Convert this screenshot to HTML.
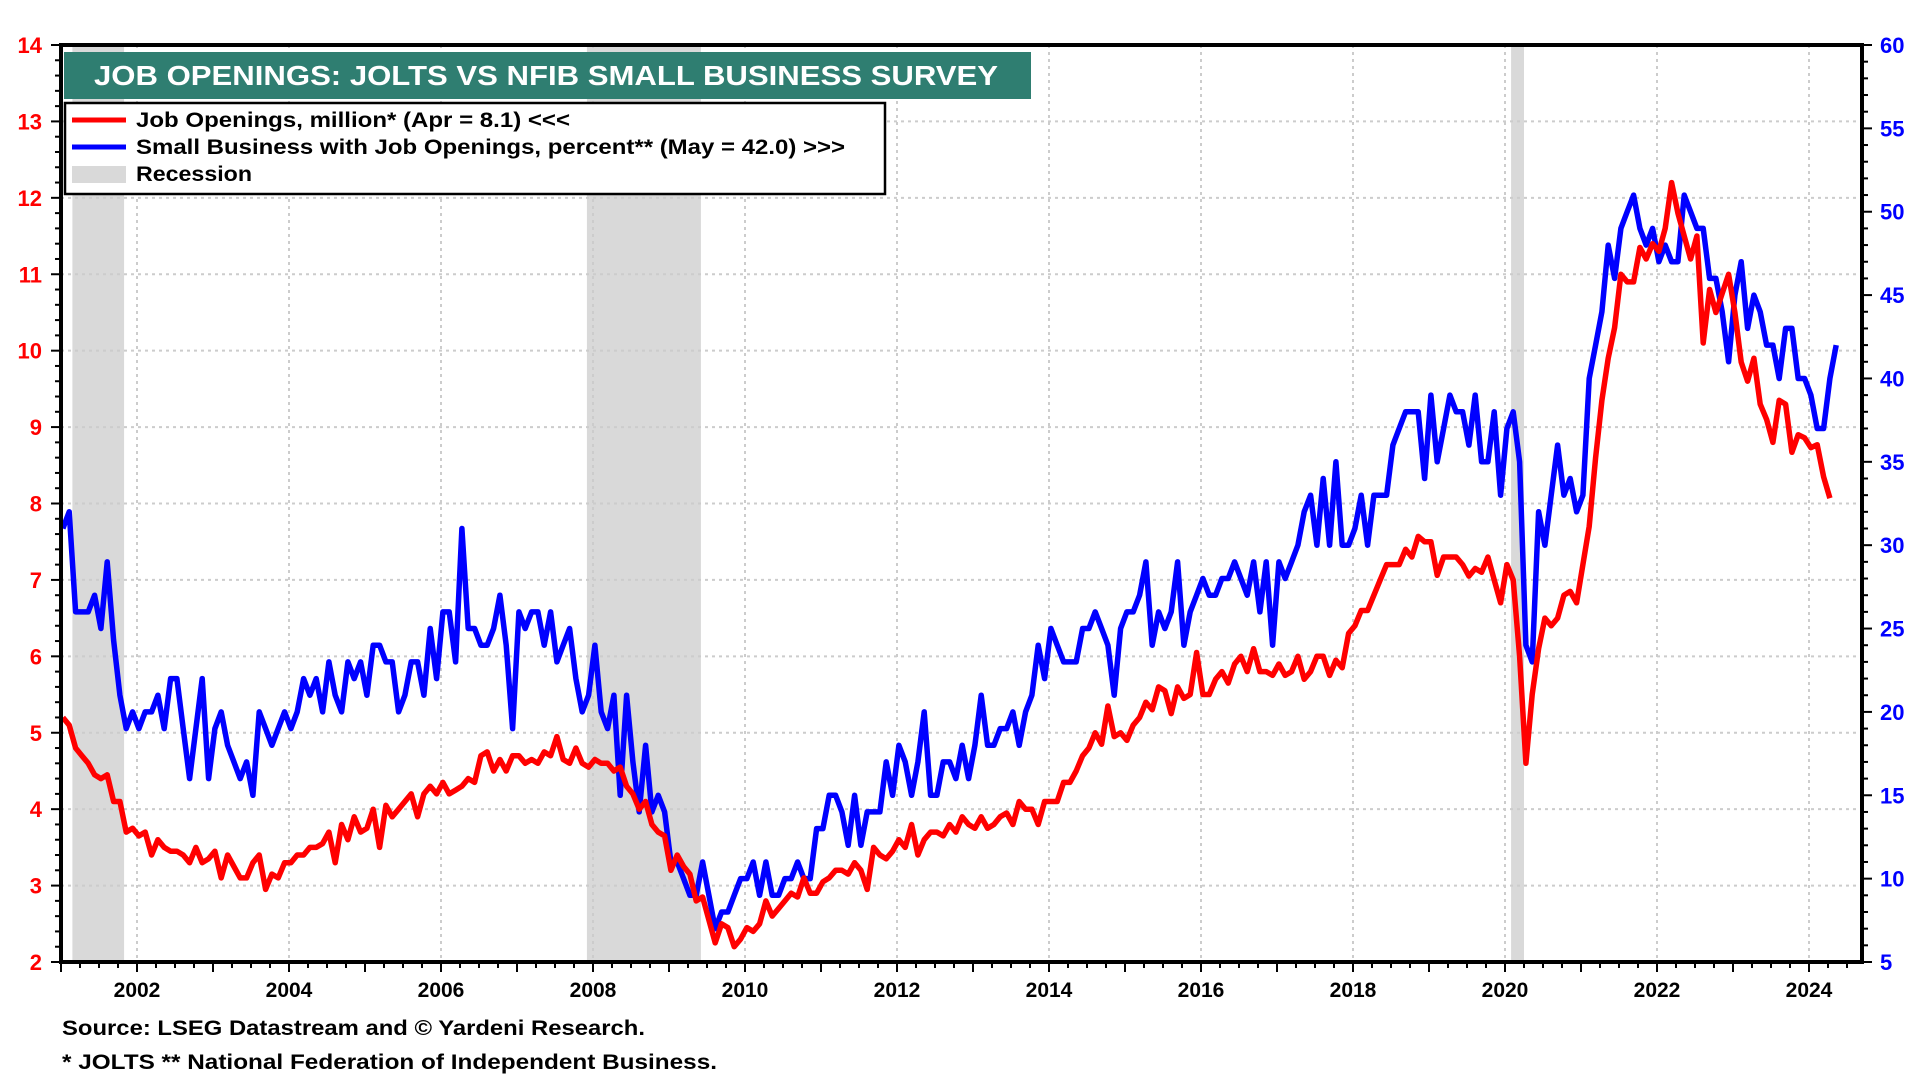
<!DOCTYPE html>
<html><head><meta charset="utf-8"><title>Job Openings: JOLTS vs NFIB</title>
<style>
html,body{margin:0;padding:0;background:#fff;}
svg{display:block;font-family:"Liberation Sans",Arial,sans-serif;font-weight:bold;}
</style></head>
<body>
<svg id="chart" width="1920" height="1080" viewBox="0 0 1920 1080" xmlns="http://www.w3.org/2000/svg">
  <g id="shade"></g>
  <g id="grid"></g>
  <g id="series"></g>
  <g id="axes"></g>
  <g>
    <rect x="64" y="52" width="967" height="47" fill="#2f7e71"/>
    <text x="94" y="85" font-size="28" fill="#fff" textLength="904" lengthAdjust="spacingAndGlyphs">JOB OPENINGS: JOLTS VS NFIB SMALL BUSINESS SURVEY</text>
  </g>
  <g>
    <rect x="65" y="103" width="820" height="91" fill="#fff" stroke="#000" stroke-width="2.5"/>
    <line x1="72" y1="120" x2="126" y2="120" stroke="#ff0000" stroke-width="5"/>
    <text x="136" y="127" font-size="21" fill="#000" textLength="434" lengthAdjust="spacingAndGlyphs">Job Openings, million* (Apr = 8.1) &lt;&lt;&lt;</text>
    <line x1="72" y1="147" x2="126" y2="147" stroke="#0000ff" stroke-width="5"/>
    <text x="136" y="154" font-size="21" fill="#000" textLength="709" lengthAdjust="spacingAndGlyphs">Small Business with Job Openings, percent** (May = 42.0) &gt;&gt;&gt;</text>
    <rect x="72" y="166" width="54" height="17" fill="#d9d9d9"/>
    <text x="136" y="181" font-size="21" fill="#000" textLength="116" lengthAdjust="spacingAndGlyphs">Recession</text>
  </g>
  <text x="62" y="1035" font-size="21" fill="#000" textLength="583" lengthAdjust="spacingAndGlyphs">Source: LSEG Datastream and © Yardeni Research.</text>
  <text x="62" y="1069" font-size="21" fill="#000" textLength="655" lengthAdjust="spacingAndGlyphs">* JOLTS  ** National Federation of Independent Business.</text>
</svg>
<script>
const startYear = 2001;
const joltsValues = [
5.2,5.1,4.8,4.7,4.6,4.45,4.4,4.45,4.1,4.1,3.7,3.75,
3.65,3.7,3.4,3.6,3.5,3.45,3.45,3.4,3.3,3.5,3.3,3.35,
3.45,3.1,3.4,3.25,3.1,3.1,3.3,3.4,2.95,3.15,3.1,3.3,
3.3,3.4,3.4,3.5,3.5,3.55,3.7,3.3,3.8,3.6,3.9,3.7,
3.75,4.0,3.5,4.05,3.9,4.0,4.1,4.2,3.9,4.2,4.3,4.2,
4.35,4.2,4.25,4.3,4.4,4.35,4.7,4.75,4.5,4.65,4.5,4.7,
4.7,4.6,4.65,4.6,4.75,4.7,4.95,4.65,4.6,4.8,4.6,4.55,
4.65,4.6,4.6,4.5,4.55,4.3,4.2,4.0,4.1,3.8,3.7,3.65,
3.2,3.4,3.25,3.15,2.8,2.85,2.55,2.25,2.5,2.45,2.2,2.3,
2.45,2.4,2.5,2.8,2.6,2.7,2.8,2.9,2.85,3.1,2.9,2.9,
3.05,3.1,3.2,3.2,3.15,3.3,3.2,2.95,3.5,3.4,3.35,3.45,
3.6,3.5,3.8,3.4,3.6,3.7,3.7,3.65,3.8,3.7,3.9,3.8,
3.75,3.9,3.75,3.8,3.9,3.95,3.8,4.1,4.0,4.0,3.8,4.1,
4.1,4.1,4.35,4.35,4.5,4.7,4.8,5.0,4.85,5.35,4.95,5.0,
4.9,5.1,5.2,5.4,5.3,5.6,5.55,5.25,5.6,5.45,5.5,6.05,
5.5,5.5,5.7,5.8,5.65,5.9,6.0,5.8,6.1,5.8,5.8,5.75,
5.9,5.75,5.8,6.0,5.7,5.8,6.0,6.0,5.75,5.95,5.85,6.3,
6.4,6.6,6.6,6.8,7.0,7.2,7.2,7.2,7.4,7.3,7.57,7.5,
7.5,7.06,7.3,7.3,7.3,7.2,7.05,7.15,7.1,7.3,7.0,6.7,
7.2,7.0,6.0,4.6,5.5,6.1,6.5,6.4,6.5,6.8,6.85,6.7,
7.2,7.7,8.6,9.35,9.9,10.3,11.0,10.9,10.9,11.35,11.2,11.4,
11.3,11.6,12.2,11.8,11.5,11.2,11.5,10.1,10.8,10.5,10.75,11.0,
10.5,9.85,9.6,9.9,9.3,9.1,8.8,9.35,9.3,8.67,8.9,8.86,
8.73,8.77,8.35,8.07];
const nfibValues = [
31,32,26,26,26,27,25,29,24.3,21,19,20,
19,20,20,21,19,22,22,19,16,19,22,16,
19,20,18,17,16,17,15,20,19,18,19,20,
19,20,22,21,22,20,23,21,20,23,22,23,
21,24,24,23,23,20,21,23,23,21,25,22,
26,26,23,31,25,25,24,24,25,27,24,19,
26,25,26,26,24,26,23,24,25,22,20,21,
24,20,19,21,15,21,17,14,18,14,15,14,
11,11,10,9,9,11,9,7,8,8,9,10,
10,11,9,11,9,9,10,10,11,10,10,13,
13,15,15,14,12,15,12,14,14,14,17,15,
18,17,15,17,20,15,15,17,17,16,18,16,
18,21,18,18,19,19,20,18,20,21,24,22,
25,24,23,23,23,25,25,26,25,24,21,25,
26,26,27,29,24,26,25,26,29,24,26,27,
28,27,27,28,28,29,28,27,29,26,29,24,
29,28,29,30,32,33,30,34,30,35,30,30,
31,33,30,33,33,33,36,37,38,38,38,34,
39,35,37,39,38,38,36,39,35,35,38,33,
37,38,35,24,23,32,30,33,36,33,34,32,
33,40,42,44,48,46,49,50,51,49,48,49,
47,48,47,47,51,50,49,49,46,46,44,41,
45,47,43,45,44,42,42,40,43,43,40,40,
39,37,37,40,42];
const recessionStarts = [2001.15, 2007.92, 2020.08];
const recessionEnds = [2001.83, 2009.42, 2020.25];
const leftTicks = [2,3,4,5,6,7,8,9,10,11,12,13,14];
const rightTicks = [5,10,15,20,25,30,35,40,45,50,55,60];
const yearLabels = [2002,2004,2006,2008,2010,2012,2014,2016,2018,2020,2022,2024];

const NS = "http://www.w3.org/2000/svg";
const X0 = 61, X1 = 1862, Y0 = 45, Y1 = 962, PX_YEAR = 76.0;
const xScale = t => X0 + (t - 2001) * PX_YEAR;
const yLeft = v => Y1 - (v - 2) * (Y1 - Y0) / 12;
const yRight = v => Y1 - (v - 5) * (Y1 - Y0) / 55;
function mk(tag, attrs, parent) {
  const el = document.createElementNS(NS, tag);
  for (const k in attrs) el.setAttribute(k, attrs[k]);
  parent.appendChild(el);
  return el;
}
const shade = document.getElementById('shade');
const grid = document.getElementById('grid');
const series = document.getElementById('series');
const axes = document.getElementById('axes');

recessionStarts.forEach((s, i) => {
  const r = mk('rect', {x: xScale(s), y: Y0, width: xScale(recessionEnds[i]) - xScale(s), height: Y1 - Y0, fill: '#d9d9d9'}, shade);
  
  
});

leftTicks.forEach(v => {
  if (v === 2 || v === 14) return;
  const l = mk('line', {x1: X0, x2: X1, y1: yLeft(v), y2: yLeft(v), stroke: '#cccccc', 'stroke-width': 2, 'stroke-dasharray': '3,4'}, grid);
  
  
});
yearLabels.forEach(y => {
  const l = mk('line', {x1: xScale(y), x2: xScale(y), y1: Y0, y2: Y1, stroke: '#cccccc', 'stroke-width': 2, 'stroke-dasharray': '3,4'}, grid);
  
  
});

function path(vals, yf, color, name) {
  const d = vals.map((v, i) => (i ? 'L' : 'M') + xScale(startYear + (i + 0.3) / 12).toFixed(1) + ',' + yf(v).toFixed(1)).join(' ');
  const p = mk('path', {d: d, fill: 'none', stroke: color, 'stroke-width': 5.5, 'stroke-linejoin': 'round'}, series);
  
  
}
path(nfibValues, yRight, '#0000ff', 'nfib-line');
path(joltsValues, yLeft, '#ff0000', 'jolts-line');

const frame = mk('rect', {x: X0, y: Y0, width: X1 - X0, height: Y1 - Y0, fill: 'none', stroke: '#000', 'stroke-width': 4}, axes);



for (let v = 2; v <= 14.001; v += 0.2) {
  const major = Math.abs(v - Math.round(v)) < 0.01;
  mk('line', {x1: X0 - (major ? 10 : 6), x2: X0, y1: yLeft(v), y2: yLeft(v), stroke: '#000', 'stroke-width': 2}, axes);
}
leftTicks.forEach(v => {
  const t = mk('text', {x: 42, y: yLeft(v) + 8, 'text-anchor': 'end', 'font-size': 22, fill: '#ff0000'}, axes);
  t.textContent = v;
  
  
});
for (let v = 5; v <= 60; v += 1) {
  const major = v % 5 === 0;
  mk('line', {x1: X1, x2: X1 + (major ? 10 : 6), y1: yRight(v), y2: yRight(v), stroke: '#000', 'stroke-width': 2}, axes);
}
rightTicks.forEach(v => {
  const t = mk('text', {x: 1880, y: yRight(v) + 8, 'font-size': 22, fill: '#0000ff'}, axes);
  t.textContent = v;
  
  
});
for (let q = 2001; q <= 2024.7; q += 0.25) {
  const yr = Math.abs(q - Math.round(q)) < 0.01;
  mk('line', {x1: xScale(q), x2: xScale(q), y1: Y1, y2: Y1 + (yr ? 10 : 6), stroke: '#000', 'stroke-width': 2}, axes);
}
yearLabels.forEach(y => {
  const t = mk('text', {x: xScale(y), y: 997, 'text-anchor': 'middle', 'font-size': 21, fill: '#000'}, axes);
  t.textContent = y;
  
  
});
</script>
</body></html>
